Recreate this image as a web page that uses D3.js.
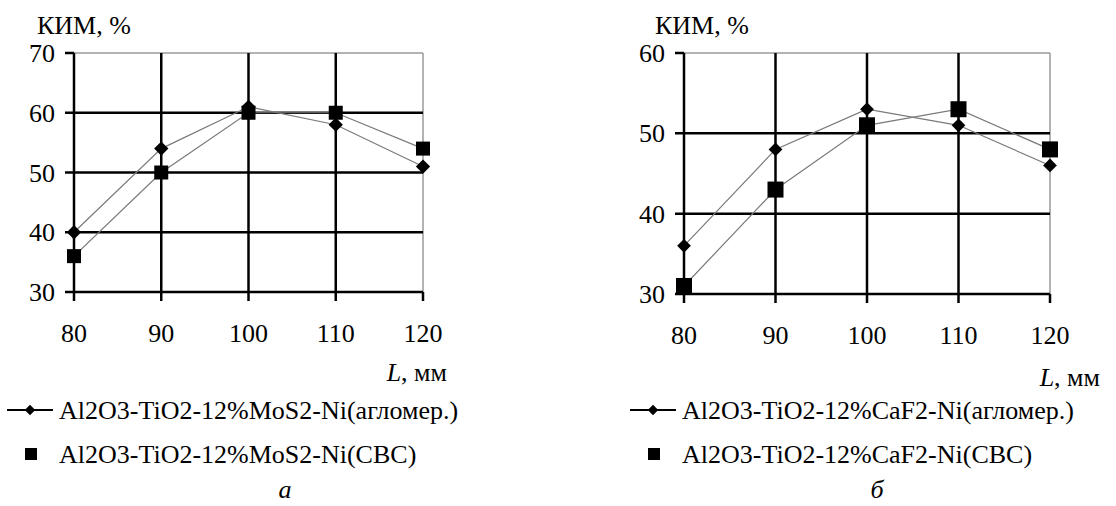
<!DOCTYPE html>
<html>
<head>
<meta charset="utf-8">
<script src="https://cdn.jsdelivr.net/npm/d3@7"></script>
<style>
  body { margin: 0; background: #fff; }
  svg text { font-family: "Liberation Serif", "DejaVu Serif", serif; }
</style>
</head>
<body>
<div id="chart"></div>
<script>
// Data
const lengths = [80, 90, 100, 110, 120];
const moAgglo = [40, 54, 61, 58, 51];
const moSvs = [36, 50, 60, 60, 54];
const caAgglo = [36, 48, 53, 51, 46];
const caSvs = [31, 43, 51, 53, 48];
const moTicks = [30, 40, 50, 60, 70];
const caTicks = [30, 40, 50, 60];
const moLabels = ["Al2O3-TiO2-12%MoS2-Ni(агломер.)", "Al2O3-TiO2-12%MoS2-Ni(СВС)"];
const caLabels = ["Al2O3-TiO2-12%CaF2-Ni(агломер.)", "Al2O3-TiO2-12%CaF2-Ni(СВС)"];

let width = 1116, height = 506;
let fs = 26;

let svg = d3.select("#chart")
            .append("svg")
            .attr("width", width)
            .attr("height", height);

function drawPanel(p) {
    let x = d3.scaleLinear()
              .domain([80, 120])
              .range([p.left, p.right]);
    let y = d3.scaleLinear()
              .domain([p.ticks[0], p.ticks[p.ticks.length - 1]])
              .range([p.bottom, p.top]);

    let g = svg.append("g");

    // thin grey frame on the top and right
    g.append("line")
     .attr("x1", p.left).attr("x2", p.right)
     .attr("y1", p.top).attr("y2", p.top)
     .attr("stroke", "#9a9a9a").attr("stroke-width", 1.5);
    g.append("line")
     .attr("x1", p.right).attr("x2", p.right)
     .attr("y1", p.top).attr("y2", p.bottom)
     .attr("stroke", "#9a9a9a").attr("stroke-width", 1.5);

    // horizontal grid lines (not the top one)
    g.selectAll(".hgrid")
     .data(p.ticks.slice(0, -1))
     .enter()
     .append("line")
     .attr("x1", p.left - 9).attr("x2", p.right)
     .attr("y1", d => y(d)).attr("y2", d => y(d))
     .attr("stroke", "#000").attr("stroke-width", 2.5);

    // vertical grid lines (not the last one)
    g.selectAll(".vgrid")
     .data(lengths.slice(0, -1))
     .enter()
     .append("line")
     .attr("x1", d => x(d)).attr("x2", d => x(d))
     .attr("y1", p.top).attr("y2", p.bottom + 9)
     .attr("stroke", "#000").attr("stroke-width", 2.5);

    // ticks on the top value and last length
    g.append("line")
     .attr("x1", p.left - 9).attr("x2", p.left)
     .attr("y1", p.top).attr("y2", p.top)
     .attr("stroke", "#000").attr("stroke-width", 2.5);
    g.append("line")
     .attr("x1", p.right).attr("x2", p.right)
     .attr("y1", p.bottom).attr("y2", p.bottom + 9)
     .attr("stroke", "#000").attr("stroke-width", 2.5);

    // tick labels
    g.selectAll(".ylab")
     .data(p.ticks)
     .enter()
     .append("text")
     .attr("x", p.left - 19)
     .attr("y", d => y(d) + 9)
     .attr("text-anchor", "end")
     .style("font-size", fs + "px")
     .text(d => d);

    g.selectAll(".xlab")
     .data(lengths)
     .enter()
     .append("text")
     .attr("x", d => x(d))
     .attr("y", p.bottom + 50)
     .attr("text-anchor", "middle")
     .style("font-size", fs + "px")
     .text(d => d);

    // axis titles
    g.append("text")
     .attr("x", p.yTitleX)
     .attr("y", 34)
     .style("font-size", fs + "px")
     .text("КИМ, %");

    let xt = g.append("text")
              .attr("x", p.xTitleX)
              .attr("y", p.xTitleY)
              .attr("text-anchor", "end")
              .style("font-size", fs + "px");
    xt.append("tspan").style("font-style", "italic").text("L");
    xt.append("tspan").text(", мм");

    // series lines
    let line = d3.line()
                 .x((d, i) => x(lengths[i]))
                 .y(d => y(d));

    [p.agglo, p.svs].forEach(s => {
        g.append("path")
         .datum(s)
         .attr("d", line)
         .attr("fill", "none")
         .attr("stroke", "#7a7a7a")
         .attr("stroke-width", 1.2);
    });

    // markers
    g.selectAll(".diamond")
     .data(p.agglo)
     .enter()
     .append("path")
     .attr("d", d3.symbol().type(d3.symbolDiamond2).size(p.dSize))
     .attr("transform", (d, i) => `translate(${x(lengths[i])},${y(d)})`)
     .attr("fill", "#000");

    g.selectAll(".square")
     .data(p.svs)
     .enter()
     .append("rect")
     .attr("x", (d, i) => x(lengths[i]) - p.sq / 2)
     .attr("y", d => y(d) - p.sq / 2)
     .attr("width", p.sq)
     .attr("height", p.sq)
     .attr("fill", "#000");

    // legend
    let lg = svg.append("g");
    lg.append("line")
      .attr("x1", p.legX).attr("x2", p.legX + 46)
      .attr("y1", p.leg1).attr("y2", p.leg1)
      .attr("stroke", "#000").attr("stroke-width", 2);
    lg.append("path")
      .attr("d", d3.symbol().type(d3.symbolDiamond2).size(70))
      .attr("transform", `translate(${p.legX + 23},${p.leg1})`)
      .attr("fill", "#000");
    lg.append("rect")
      .attr("x", p.legX + 18).attr("y", p.leg2 - 6)
      .attr("width", 12).attr("height", 12)
      .attr("fill", "#000");

    p.labels.forEach((t, i) => {
        lg.append("text")
          .attr("x", p.legX + 52)
          .attr("y", (i == 0 ? p.leg1 : p.leg2) + 9)
          .style("font-size", fs + "px")
          .text(t);
    });

    svg.append("text")
       .attr("x", p.capX)
       .attr("y", p.capY)
       .attr("text-anchor", "middle")
       .style("font-size", fs + "px")
       .style("font-style", "italic")
       .text(p.cap);
}

drawPanel({
    left: 74, right: 423, top: 53, bottom: 292,
    ticks: moTicks, agglo: moAgglo, svs: moSvs,
    dSize: 130, sq: 14,
    yTitleX: 37, xTitleX: 447, xTitleY: 381,
    legX: 7, leg1: 410, leg2: 454, labels: moLabels,
    capX: 285, capY: 498, cap: "а"
});

drawPanel({
    left: 684, right: 1050, top: 53, bottom: 294,
    ticks: caTicks, agglo: caAgglo, svs: caSvs,
    dSize: 120, sq: 16,
    yTitleX: 655, xTitleX: 1100, xTitleY: 386,
    legX: 630, leg1: 410, leg2: 454, labels: caLabels,
    capX: 877, capY: 498, cap: "б"
});
</script>
</body>
</html>
